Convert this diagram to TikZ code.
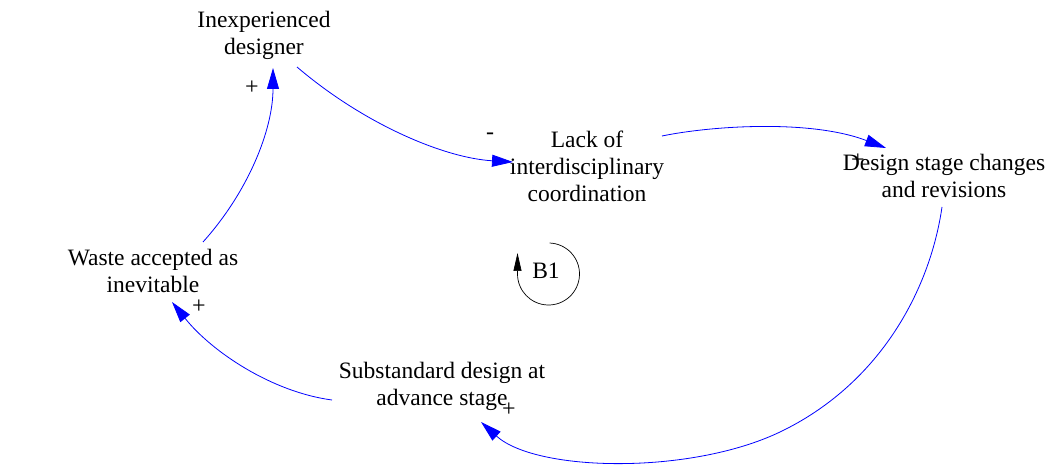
\documentclass[tikz,border=0pt]{standalone}
\usepackage{fontspec}
\setmainfont{Liberation Serif}
\usetikzlibrary{arrows.meta}
\begin{document}
\begin{tikzpicture}[x=1pt,y=1pt,
  var/.style={align=center,inner sep=0pt,font=\fontsize{23.5}{27}\selectfont},
  link/.style={draw=blue,line width=0.8pt,-{Triangle[length=21pt,width=12pt]}},
  pol/.style={inner sep=0pt,font=\fontsize{24}{24}\selectfont}]
\useasboundingbox (0,0) rectangle (1063,469);
% variables
\node[var] (inex)   at (264,434) {Inexperienced\\designer};
\node[var] (lack)   at (587,303) {Lack of\\interdisciplinary\\coordination};
\node[var] (design) at (944,293) {Design stage changes\\and revisions};
\node[var] (waste)  at (153,198) {Waste accepted as\\inevitable};
\node[var] (sub)    at (442,83)  {Substandard design at\\advance stage};
% links
\draw[link] ([shift={(33,-32)}]inex.center) .. controls (365,344) and (445,311) .. ([shift={(-74,4)}]lack.center);
\draw[link] ([shift={(75,30)}]lack.center) .. controls (710,343) and (810,350) .. ([shift={(-58,28)}]design.center);
\draw[link] ([shift={(-2,-31)}]design.center) .. controls (930,179) and (880,85) .. (780,37)
   .. controls (690,-6) and (536,-3) .. ([shift={(39,-36)}]sub.center);
\draw[link] ([shift={(-110,-14)}]sub.center) .. controls (272,77) and (212,117) .. ([shift={(19,-31)}]waste.center);
\draw[link] ([shift={(50,29)}]waste.center) .. controls (248,277) and (273,339) .. ([shift={(9,-33)}]inex.center);
% polarities
\node[pol] (p1) at (490,333) {-};
\node[pol] (p2) at (858,308) {+};
\node[pol] (p3) at (509,59)  {+};
\node[pol] (p4) at (199,162) {+};
\node[pol] (p5) at (252,381) {+};
% loop
\node[var] (b1) at (546,198) {B1};
\coordinate (b1c) at (548.5,195);
\draw[black,line width=0.7pt,-{Triangle[length=18pt,width=8pt]}]
  ([shift={(88:31)}]b1c) arc[start angle=88,end angle=-180,radius=31] -- ++(0,21);
\end{tikzpicture}
\end{document}
